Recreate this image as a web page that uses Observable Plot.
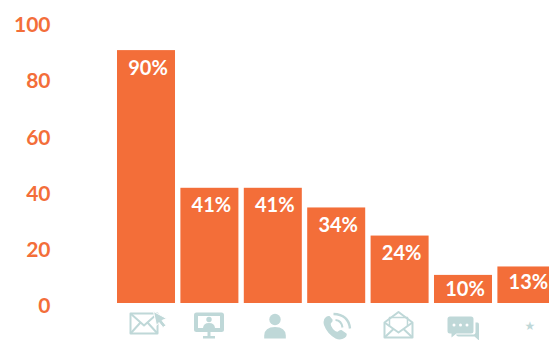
<!DOCTYPE html>
<html>
<head>
<meta charset="utf-8">
<style>
  html, body { margin: 0; padding: 0; background: #fff; }
  svg { display: block; }
</style>
<script src="https://cdn.jsdelivr.net/npm/d3@7"></script>
<script src="https://cdn.jsdelivr.net/npm/@observablehq/plot@0.6"></script>
</head>
<body>
<div id="chart"></div>
<script>
const channels = ["Email", "Webinar", "In person", "Phone", "Direct mail", "Chat", "Other"];
const shares = [90, 41, 41, 34, 24, 10, 13];
const yTicks = [0, 20, 40, 60, 80, 100];

const orange = "#F36E39";
const iconTint = "#BFD8D8";

// Pictograms for each channel, drawn on a 60x34 tile centred under its bar.
const line = (w = 2) => `fill="none" stroke="${iconTint}" stroke-width="${w}" stroke-linejoin="round"`;
const solid = `fill="${iconTint}"`;
const glyphs = {
  "Email": [146, `
    <rect x="130" y="313" width="27" height="20" ${line()}/>
    <path d="M130 313 L143.5 325 L157 313 M130 333 L140 322 M157 333 L147 322" ${line()}/>
    <path d="M153 311 L166 318 L161.5 320 L165.5 325 L162.5 327 L158.5 322 L156 325 Z" ${solid} stroke="#fff" stroke-width="1"/>`],
  "Webinar": [209.4, `
    <path fill-rule="evenodd" d="M196 312 H221 Q223.500 312 223.500 314.500 V329 Q223.500 331.500 221 331.500 H196 Q193.500 331.500 193.500 329 V314.500 Q193.500 312 196 312 Z M197.500 315.500 V327.500 H219.500 V315.500 Z" ${solid}/>
    <circle cx="208.500" cy="319" r="2.700" ${solid}/>
    <path d="M202.500 327.500 Q203 322.500 208.500 322.500 Q214 322.500 214.500 327.500 Z" ${solid}/>
    <path d="M207 331.500 H210 V335.500 H214.500 V338 H202.500 V335.500 H207 Z" ${solid}/>`],
  "In person": [272.8, `
    <circle cx="274.500" cy="319" r="5.700" ${solid}/>
    <path d="M263.700 338 V335 Q264 326.500 274.500 326.500 Q285 326.500 285.300 335 V338 Z" ${solid}/>`],
  "Phone": [336.2, `
    <path d="M325.500 316.500 Q322 319 323.500 324.500 Q326.500 333 335 338 Q340 340 344 337.500 Q347 335.500 346 333 L341 329.500 Q339 329 337.500 331 Q335.500 332 332.500 328.500 Q329.500 325 330.500 322.500 Q332.500 321.500 332 319 L329 315.500 Q327.500 315 325.500 316.500 Z" ${solid}/>
    <path d="M335 319.500 Q341 320 342 327" ${line()}/>
    <path d="M333 313.500 Q348 314 349.500 328" ${line(2.4)}/>`],
  "Direct mail": [399.6, `
    <path d="M384 322 V337 H412 V322 L398 311.500 Z" ${line()}/>
    <path d="M389 326 V317 H407 V326" ${line(1.5)}/>
    <path d="M384 322 L398 332 L412 322 M384 337 L393.500 328 M412 337 L402.500 328" ${line()}/>`],
  "Chat": [463, `
    <path d="M475 322 H477 Q478.500 322 478.500 324 V340 L474 336 H458 Q456 336 455.500 334 H473 Q475 334 475 332 Z" ${solid}/>
    <path d="M449.500 316 H470.500 Q473 316 473 318.500 V330.500 Q473 333 470.500 333 H456 L451 337 V333 H449.500 Q447 333 447 330.500 V318.500 Q447 316 449.500 316 Z" ${solid}/>
    <circle cx="453.500" cy="324.500" r="1.500" fill="#fff"/>
    <circle cx="460" cy="324.500" r="1.500" fill="#fff"/>
    <circle cx="466.500" cy="324.500" r="1.500" fill="#fff"/>`]
};

const iconFor = name => {
  const [centre, body] = glyphs[name];
  const svg = `<svg xmlns="http://www.w3.org/2000/svg" width="60" height="34" viewBox="0 0 60 34">` +
    `<g transform="translate(${30 - centre},-306)">${body}</g></svg>`;
  return "data:image/svg+xml;charset=utf-8," + encodeURIComponent(svg);
};

const rows = channels.map((channel, i) => ({channel, share: shares[i]}));

// Percent label inside the top of a bar; the short bars need it closer to their edge.
const percentLabels = (subset, dy) => Plot.text(subset, {
  x: "channel",
  y: "share",
  text: d => `${d.share}%`,
  dx: 1.5,
  dy,
  fill: "#fff",
  fontSize: 20,
  fontWeight: 700
});

const chart = Plot.plot({
  width: 549,
  height: 340,
  marginTop: 22,
  marginBottom: 37,
  marginLeft: 117,
  marginRight: -6.4,
  style: {fontFamily: "Lato, sans-serif", background: "#fff"},
  x: {domain: channels, paddingInner: 0.085, paddingOuter: 0, round: false, axis: null},
  y: {domain: [0, 100], label: null},
  marks: [
    Plot.axisY({
      ticks: yTicks,
      tickSize: 0,
      tickPadding: 67,
      dy: 3,
      fill: orange,
      fontSize: 21,
      fontWeight: 700,
      label: null
    }),
    Plot.barY(rows, {x: "channel", y: "share", fill: orange}),
    percentLabels(rows.filter(d => d.share > 34), 17.5),
    percentLabels(rows.filter(d => d.share > 20 && d.share <= 34), 18),
    percentLabels(rows.filter(d => d.channel === "Other"), 16),
    percentLabels(rows.filter(d => d.channel === "Chat"), 14.5),
    Plot.image(rows.filter(d => glyphs[d.channel]), {
      x: "channel",
      frameAnchor: "bottom",
      dy: 20,
      width: 60,
      height: 34,
      src: d => iconFor(d.channel)
    }),
    // The last category has no pictogram, only a small star.
    Plot.text(["Other"], {
      x: d => d,
      frameAnchor: "bottom",
      text: () => "★",
      dx: 3,
      dy: 26,
      fill: iconTint,
      fontFamily: "DejaVu Sans",
      fontSize: 12
    })
  ]
});

document.getElementById("chart").appendChild(chart);
</script>
</body>
</html>
